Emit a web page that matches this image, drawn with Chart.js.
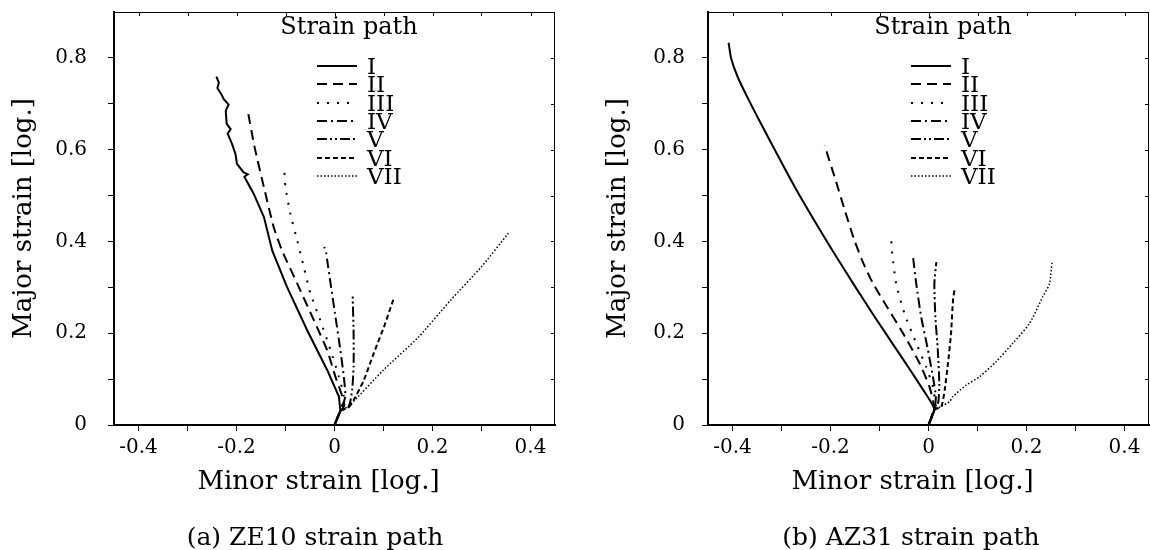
<!DOCTYPE html>
<html>
<head>
<meta charset="utf-8">
<script src="https://cdn.jsdelivr.net/npm/chart.js@4.4.1/dist/chart.umd.min.js"></script>
<style>
  html, body { margin: 0; padding: 0; background: #fff; }
  #wrap { position: relative; width: 1150px; height: 550px; overflow: hidden; font-family: "DejaVu Serif", serif; color: #000; }
  .panel { position: absolute; top: 0; width: 575px; height: 550px; }
  .panel canvas { display: block; width: 575px; height: 550px; }
  .caption { position: absolute; top: 522px; width: 400px; text-align: center; font-size: 25px; line-height: 30px; }
</style>
</head>
<body>
<div id="wrap">
  <div class="panel" style="left:0"><canvas id="ze10" width="575" height="550"></canvas></div>
  <div class="panel" style="left:575px"><canvas id="az31" width="575" height="550"></canvas></div>
  <div class="caption" style="left:115px">(a) ZE10 strain path</div>
  <div class="caption" style="left:711px">(b) AZ31 strain path</div>
</div>
<script>
// ---- axes ----
const xTickValues = [-0.4, -0.3, -0.2, -0.1, 0, 0.1, 0.2, 0.3, 0.4];
const xTickLabels = ['-0.4', '', '-0.2', '', '0', '', '0.2', '', '0.4'];
const yTickValues = [0, 0.1, 0.2, 0.3, 0.4, 0.5, 0.6, 0.7, 0.8];
const yTickLabels = ['0', '', '0.2', '', '0.4', '', '0.6', '', '0.8'];
const xTitle = 'Minor strain [log.]';
const yTitle = 'Major strain [log.]';
const keyTitle = 'Strain path';
const pathLabels = ['I', 'II', 'III', 'IV', 'V', 'VI', 'VII'];

// ---- ZE10: [minor, major] log strain along each path ----
const ze10I = [[0,0],[0.012,0.03],[0.009,0.062],[-0.015,0.12],[-0.056,0.207],[-0.097,0.301],[-0.127,0.38],[-0.144,0.453],[-0.165,0.504],[-0.184,0.541],[-0.177,0.546],[-0.186,0.551],[-0.199,0.569],[-0.202,0.59],[-0.209,0.612],[-0.218,0.635],[-0.212,0.645],[-0.22,0.656],[-0.222,0.685],[-0.216,0.698],[-0.226,0.71],[-0.231,0.721],[-0.239,0.734],[-0.236,0.746],[-0.241,0.759]];
const ze10II = [[0,0],[0.012,0.03],[0.02,0.042],[0.016,0.062],[0.002,0.105],[-0.015,0.163],[-0.042,0.228],[-0.076,0.308],[-0.107,0.38],[-0.124,0.431],[-0.144,0.518],[-0.163,0.605],[-0.178,0.69]];
const ze10III = [[0,0],[0.012,0.03],[0.019,0.062],[0.009,0.105],[-0.008,0.163],[-0.029,0.228],[-0.049,0.286],[-0.066,0.359],[-0.076,0.402],[-0.09,0.46],[-0.1,0.518],[-0.103,0.563]];
const ze10IV = [[0,0],[0.012,0.03],[0.022,0.062],[0.019,0.105],[0.012,0.163],[0.002,0.236],[-0.008,0.308],[-0.015,0.36],[-0.017,0.375],[-0.021,0.388]];
const ze10V = [[0,0],[0.012,0.03],[0.029,0.04],[0.036,0.076],[0.039,0.128],[0.039,0.2],[0.037,0.283]];
const ze10VI = [[0,0],[0.012,0.03],[0.03,0.04],[0.039,0.054],[0.06,0.098],[0.08,0.156],[0.101,0.214],[0.12,0.273]];
const ze10VII = [[0,0],[0.012,0.03],[0.03,0.042],[0.1,0.12],[0.17,0.19],[0.237,0.272],[0.3,0.345],[0.355,0.418]];

// ---- AZ31: [minor, major] log strain along each path ----
const az31I = [[0,0],[0.012,0.033],[0.005,0.05],[-0.01,0.075],[-0.035,0.116],[-0.07,0.172],[-0.11,0.236],[-0.15,0.302],[-0.19,0.37],[-0.23,0.44],[-0.27,0.513],[-0.31,0.592],[-0.345,0.663],[-0.37,0.715],[-0.39,0.76],[-0.403,0.8],[-0.408,0.833]];
const az31II = [[0,0],[0.012,0.033],[0.012,0.04],[0.002,0.083],[-0.018,0.134],[-0.052,0.2],[-0.093,0.272],[-0.114,0.31],[-0.134,0.355],[-0.152,0.405],[-0.17,0.465],[-0.19,0.535],[-0.212,0.609]];
const az31III = [[0,0],[0.012,0.033],[0.015,0.04],[0.009,0.083],[-0.005,0.127],[-0.025,0.178],[-0.049,0.243],[-0.066,0.308],[-0.074,0.373],[-0.076,0.402]];
const az31IV = [[0,0],[0.012,0.033],[0.015,0.062],[0.009,0.105],[-0.001,0.163],[-0.015,0.236],[-0.025,0.308],[-0.032,0.37]];
const az31V = [[0,0],[0.012,0.033],[0.02,0.05],[0.022,0.091],[0.019,0.163],[0.014,0.236],[0.012,0.308],[0.016,0.355]];
const az31VI = [[0,0],[0.012,0.033],[0.026,0.04],[0.033,0.076],[0.039,0.127],[0.046,0.2],[0.05,0.272],[0.053,0.295]];
const az31VII = [[0,0],[0.012,0.033],[0.025,0.04],[0.043,0.051],[0.05,0.062],[0.077,0.087],[0.104,0.105],[0.138,0.138],[0.172,0.178],[0.206,0.221],[0.233,0.279],[0.247,0.308],[0.252,0.355]];

// ---- line styles per path ----
const pathDashes = [[], [10, 6], [2, 8], [10, 4, 2, 4], [10, 3, 2, 3, 2, 3], [5, 3], [1.5, 2]];
const pathWidths = [2, 2, 2, 2, 2, 2, 1.5];

const SERIF = '"DejaVu Serif", serif';

function makeDatasets(paths, tensions) {
  return paths.map((pts, i) => ({
    label: pathLabels[i],
    data: pts.map(p => ({ x: p[0], y: p[1] })),
    borderColor: '#000',
    borderWidth: pathWidths[i],
    borderDash: pathDashes[i],
    borderCapStyle: 'butt',
    pointRadius: 0,
    pointHoverRadius: 0,
    fill: false,
    tension: tensions[i]
  }));
}

// thin top/right frame with inward ticks
const framePlugin = {
  id: 'frame',
  afterDatasetsDraw(chart) {
    const { ctx, chartArea: a, scales: { x, y } } = chart;
    ctx.save();
    ctx.strokeStyle = '#000';
    ctx.lineWidth = 1;
    ctx.setLineDash([]);
    ctx.beginPath();
    ctx.moveTo(a.left, a.top + 0.5); ctx.lineTo(a.right, a.top + 0.5);
    ctx.moveTo(a.right - 0.5, a.top); ctx.lineTo(a.right - 0.5, a.bottom);
    xTickValues.forEach(v => {
      const px = Math.round(x.getPixelForValue(v)) + 0.5;
      ctx.moveTo(px, a.top); ctx.lineTo(px, a.top + 4);
    });
    yTickValues.forEach(v => {
      if (v === 0) return;
      const py = Math.round(y.getPixelForValue(v)) + 0.5;
      ctx.moveTo(a.right, py); ctx.lineTo(a.right - 4, py);
    });
    ctx.stroke();
    ctx.restore();
  }
};

// key box inside the plot, anchored to the right edge
const keyPlugin = {
  id: 'strainKey',
  afterDraw(chart) {
    const { ctx, chartArea: a } = chart;
    const r = a.right;
    ctx.save();
    ctx.fillStyle = '#000';
    ctx.strokeStyle = '#000';
    ctx.textBaseline = 'middle';
    ctx.font = '24px ' + SERIF;
    ctx.textAlign = 'center';
    ctx.fillText(keyTitle, r - 206, 28);
    ctx.textAlign = 'left';
    ctx.font = '23px ' + SERIF;
    chart.data.datasets.forEach((ds, i) => {
      const yy = Math.round(66 + i * 18.3);
      ctx.setLineDash(ds.borderDash || []);
      ctx.lineWidth = ds.borderWidth;
      ctx.beginPath();
      ctx.moveTo(r - 238, yy); ctx.lineTo(r - 198, yy);
      ctx.stroke();
      ctx.fillText(ds.label, r - 188, yy + 2);
    });
    ctx.restore();
  }
};

// horizontal axis title
const xTitlePlugin = {
  id: 'xTitleText',
  afterDraw(chart) {
    const { ctx, chartArea: a } = chart;
    ctx.save();
    ctx.fillStyle = '#000';
    ctx.font = '26px ' + SERIF;
    ctx.textAlign = 'center';
    ctx.textBaseline = 'middle';
    ctx.fillText(xTitle, (a.left + a.right) / 2 - 16, 482);
    ctx.restore();
  }
};

function makeChart(id, paths, tensions, geo) {
  return new Chart(document.getElementById(id), {
    type: 'line',
    data: { datasets: makeDatasets(paths, tensions) },
    plugins: [framePlugin, keyPlugin, xTitlePlugin],
    options: {
      responsive: false,
      animation: false,
      devicePixelRatio: 1,
      events: [],
      layout: { padding: { left: 0, top: 12, right: geo.padRight, bottom: 45 } },
      plugins: { legend: { display: false }, tooltip: { enabled: false } },
      scales: {
        x: {
          type: 'linear',
          min: -0.45,
          max: 0.45,
          afterBuildTicks: s => { s.ticks = xTickValues.map(v => ({ value: v })); },
          afterFit: s => { s.height = 80; s.paddingLeft = 0; s.paddingRight = 0; },
          ticks: {
            autoSkip: false,
            maxRotation: 0,
            padding: 5,
            color: '#000',
            font: { family: SERIF, size: 20 },
            callback: (v, i) => xTickLabels[i]
          },
          grid: { drawOnChartArea: false, drawTicks: true, tickLength: 6, color: '#000', lineWidth: 1 },
          border: { display: true, color: '#000', width: 2 }
        },
        y: {
          type: 'linear',
          min: 0,
          max: 0.9,
          afterBuildTicks: s => { s.ticks = yTickValues.map(v => ({ value: v })); },
          afterFit: s => { s.width = geo.yWidth; s.paddingTop = 0; s.paddingBottom = 0; },
          ticks: {
            autoSkip: false,
            padding: geo.yTickPad,
            color: '#000',
            font: { family: SERIF, size: 20 },
            callback: (v, i) => yTickLabels[i]
          },
          grid: { drawOnChartArea: false, drawTicks: true, tickLength: 6, color: '#000', lineWidth: 1 },
          border: { display: true, color: '#000', width: 2 },
          title: {
            display: true,
            text: yTitle,
            color: '#000',
            font: { family: SERIF, size: 26 },
            padding: { top: geo.yTitlePad, bottom: 0 }
          }
        }
      }
    }
  });
}

makeChart('ze10', [ze10I, ze10II, ze10III, ze10IV, ze10V, ze10VI, ze10VII],
  [0, 0.2, 0.2, 0.2, 0.2, 0.2, 0.2],
  { padRight: 20, yWidth: 114, yTickPad: 21, yTitlePad: 9 });

makeChart('az31', [az31I, az31II, az31III, az31IV, az31V, az31VI, az31VII],
  [0.2, 0.2, 0.2, 0.2, 0.2, 0.2, 0.2],
  { padRight: 1, yWidth: 133, yTickPad: 17, yTitlePad: 28 });
</script>
</body>
</html>
